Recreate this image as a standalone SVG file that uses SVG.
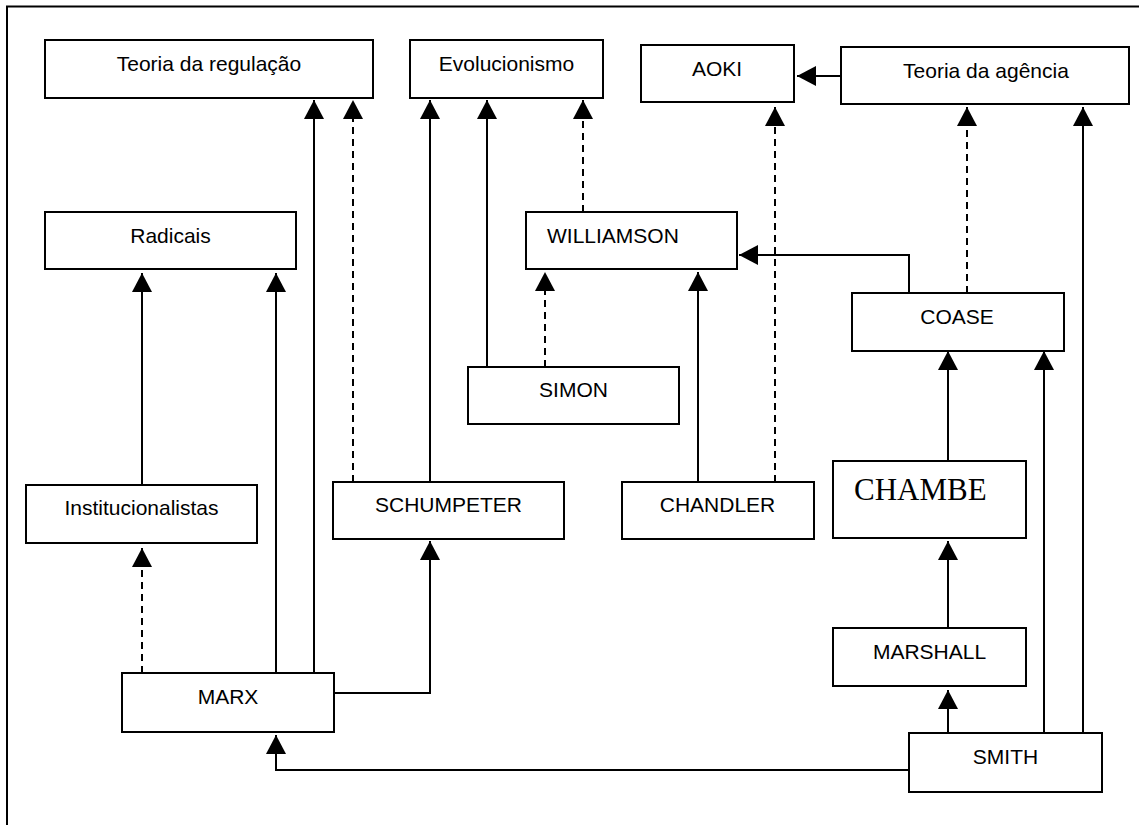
<svg xmlns="http://www.w3.org/2000/svg" width="1139" height="825" viewBox="0 0 1139 825">
<style>
.box{fill:#fff;stroke:#000;stroke-width:2}
.t{font-family:"Liberation Sans",Arial,sans-serif;font-size:21px;fill:#000;text-anchor:middle}
.c{fill:none;stroke:#000;stroke-width:2}
.d{stroke-dasharray:7,5}
</style>
<defs>
<marker id="ah" viewBox="0 0 19 20" refX="19" refY="10" markerWidth="19" markerHeight="20" markerUnits="userSpaceOnUse" orient="auto">
<path d="M0,0 L19,10 L0,20 z" fill="#000"/>
</marker>
</defs>
<rect x="0" y="0" width="1139" height="825" fill="#fff"/>
<rect x="7" y="6.5" width="1150" height="840" fill="none" stroke="#000" stroke-width="2"/>
<g id="connectors">
<path class="c d" d="M142,673 V548" marker-end="url(#ah)"/>
<path class="c" d="M142,485 V273" marker-end="url(#ah)"/>
<path class="c" d="M276,673 V273" marker-end="url(#ah)"/>
<path class="c" d="M314,673 V100" marker-end="url(#ah)"/>
<path class="c d" d="M353,482 V100" marker-end="url(#ah)"/>
<path class="c" d="M334,693 H430 V541" marker-end="url(#ah)"/>
<path class="c" d="M430,482 V100" marker-end="url(#ah)"/>
<path class="c" d="M487,367 V100" marker-end="url(#ah)"/>
<path class="c d" d="M583,212 V100" marker-end="url(#ah)"/>
<path class="c d" d="M545,367 V272" marker-end="url(#ah)"/>
<path class="c" d="M698,482 V272" marker-end="url(#ah)"/>
<path class="c d" d="M775,482 V107" marker-end="url(#ah)"/>
<path class="c" d="M909,293 V255 H739" marker-end="url(#ah)"/>
<path class="c d" d="M967,293 V107" marker-end="url(#ah)"/>
<path class="c" d="M1083,733 V107" marker-end="url(#ah)"/>
<path class="c" d="M1044,733 V351" marker-end="url(#ah)"/>
<path class="c" d="M948,461 V351" marker-end="url(#ah)"/>
<path class="c" d="M948,628 V541" marker-end="url(#ah)"/>
<path class="c" d="M948,733 V690" marker-end="url(#ah)"/>
<path class="c" d="M909,770 H276 V735" marker-end="url(#ah)"/>
<path class="c" d="M841,76 H797" marker-end="url(#ah)"/>
</g>
<g id="regulacao"><rect class="box" x="45" y="40" width="328" height="58"/><text class="t" x="209" y="71">Teoria da regulação</text></g>
<g id="evolucionismo"><rect class="box" x="410" y="40" width="193" height="58"/><text class="t" x="506.5" y="71">Evolucionismo</text></g>
<g id="aoki"><rect class="box" x="641" y="45" width="153" height="57"/><text class="t" x="717" y="76">AOKI</text></g>
<g id="agencia"><rect class="box" x="841" y="47" width="288" height="57"/><text class="t" x="986" y="78">Teoria da agência</text></g>
<g id="radicais"><rect class="box" x="45" y="212" width="251" height="57"/><text class="t" x="170.5" y="243">Radicais</text></g>
<g id="williamson"><rect class="box" x="526" y="212" width="211" height="57"/><text class="t" x="547" y="243" style="text-anchor:start">WILLIAMSON</text></g>
<g id="coase"><rect class="box" x="852" y="293" width="212" height="58"/><text class="t" x="957" y="324">COASE</text></g>
<g id="simon"><rect class="box" x="468" y="367" width="211" height="57"/><text class="t" x="573.5" y="397">SIMON</text></g>
<g id="institucionalistas"><rect class="box" x="26" y="485" width="231" height="58"/><text class="t" x="141.5" y="515">Institucionalistas</text></g>
<g id="schumpeter"><rect class="box" x="333" y="482" width="231" height="57"/><text class="t" x="448.5" y="512">SCHUMPETER</text></g>
<g id="chandler"><rect class="box" x="622" y="482" width="192" height="57"/><text class="t" x="717.5" y="512">CHANDLER</text></g>
<g id="chambe"><rect class="box" x="833" y="461" width="193" height="77"/><text x="854" y="500" style="font-family:'Liberation Serif','Times New Roman',serif;font-size:31px;fill:#000">CHAMBE</text></g>
<g id="marx"><rect class="box" x="122" y="673" width="212" height="59"/><text class="t" x="228" y="704">MARX</text></g>
<g id="marshall"><rect class="box" x="833" y="628" width="193" height="58"/><text class="t" x="929.5" y="659">MARSHALL</text></g>
<g id="smith"><rect class="box" x="909" y="733" width="193" height="59"/><text class="t" x="1005.5" y="764">SMITH</text></g>
</svg>
